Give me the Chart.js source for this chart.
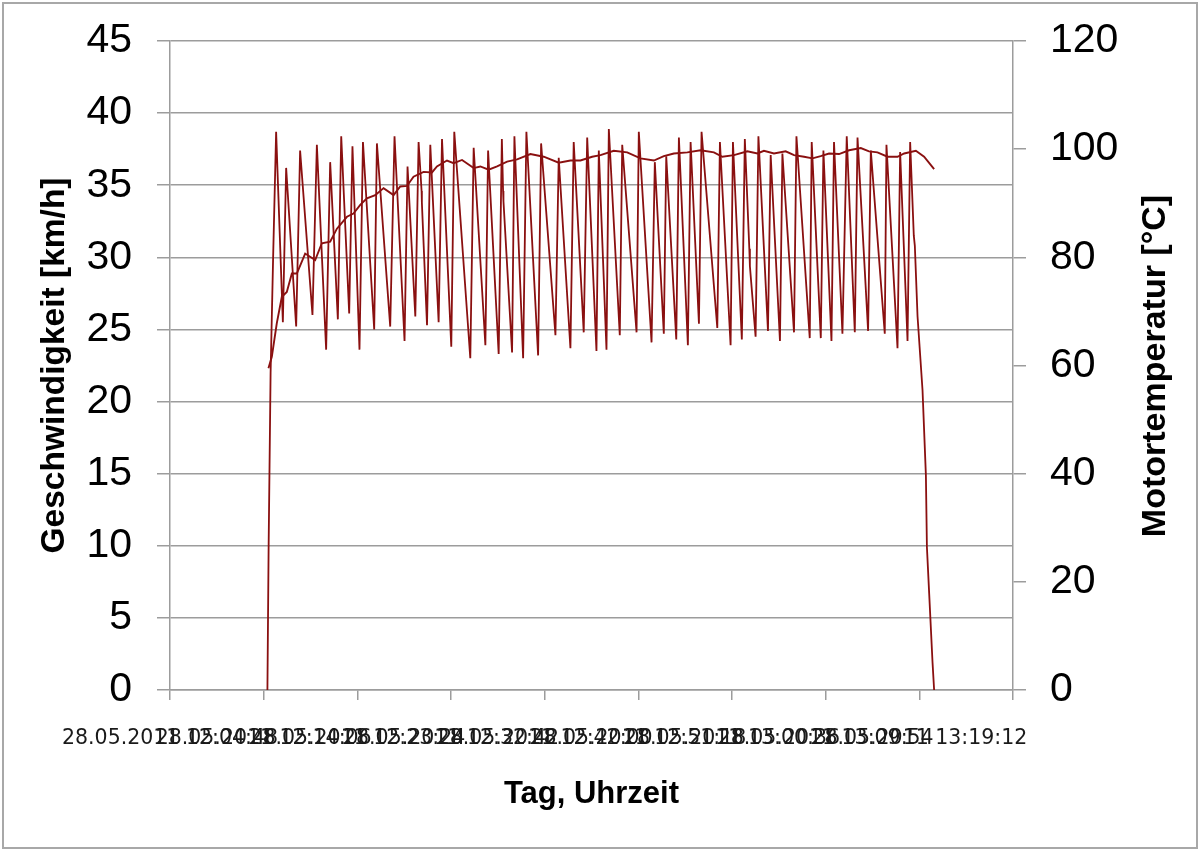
<!DOCTYPE html>
<html lang="de">
<head>
<meta charset="utf-8">
<title>Geschwindigkeit und Motortemperatur</title>
<script src="https://cdn.jsdelivr.net/npm/chart.js@4.4.1/dist/chart.umd.min.js"></script>
<style>
    html, body { margin: 0; padding: 0; background: #ffffff; }
    canvas { display: block; }
</style>
</head>
<body>
<canvas id="chart" width="1200" height="850"></canvas>
<script>
// Tick labels of the time axis (one every 100 measuring points)
const xTickLabels = [
    "28.05.2011 12:04:48",
    "28.05.2011 12:14:06",
    "28.05.2011 12:23:24",
    "28.05.2011 12:32:42",
    "28.05.2011 12:42:00",
    "28.05.2011 12:51:18",
    "28.05.2011 13:00:36",
    "28.05.2011 13:09:54",
    "28.05.2011 13:19:12"
];

// Speed series: measuring point index and speed in km/h
const speedIndex = [
    104.0, 105.3, 107.4, 110.1, 113.3, 120.5, 124.0, 134.7, 138.9, 152.1,
    156.8, 166.7, 171.0, 179.2, 182.8, 191.3, 194.8, 202.3, 206.0, 218.0,
    220.9, 235.1, 239.7, 250.4, 253.6, 261.9, 265.4, 268.6, 268.9, 274.4,
    277.9, 286.8, 290.4, 300.3, 303.5, 320.6, 324.2, 336.7, 339.6, 350.9,
    354.3, 355.6, 356.0, 365.2, 367.7, 377.0, 380.5, 393.0, 396.2, 411.5,
    415.0, 427.5, 431.0, 441.7, 445.4, 455.3, 457.8, 466.0, 468.5, 480.2,
    482.8, 498.1, 500.5, 514.1, 517.6, 527.2, 529.8, 540.5, 543.3, 552.9,
    555.8, 564.7, 567.5, 584.3, 587.1, 598.5, 601.0, 610.5, 613.7, 618.5,
    619.1, 625.2, 628.2, 638.4, 641.3, 651.2, 653.8, 666.2, 668.8, 683.0,
    685.1, 694.8, 697.6, 706.2, 708.9, 717.9, 722.5, 731.1, 734.0, 745.3,
    748.2, 763.1, 764.9, 776.7, 779.5, 787.4, 790.2, 794.1, 795.2, 798.1,
    803.4, 807.0, 808.1, 810.5, 814.1, 815.8
];
const speedKmh = [
    0, 10, 22, 30, 38.7, 25.5, 36.2, 25.2, 37.4, 26.0,
    37.8, 23.6, 36.6, 25.7, 38.4, 26.1, 37.7, 23.6, 38.0, 25.0,
    37.9, 25.2, 38.4, 24.2, 36.3, 25.9, 38.0, 34.6, 33.8, 25.3,
    37.8, 25.5, 38.2, 23.8, 38.7, 23.0, 37.6, 23.9, 37.4, 23.3,
    38.2, 34.6, 33.9, 23.4, 38.4, 23.0, 38.7, 23.2, 37.9, 24.6,
    36.9, 23.7, 38.0, 24.8, 38.3, 23.5, 37.4, 23.6, 38.9, 24.6,
    37.8, 24.8, 38.7, 24.1, 36.6, 24.7, 37.0, 24.3, 38.3, 23.9,
    38.0, 25.4, 38.7, 25.1, 38.0, 23.9, 38.0, 24.3, 38.2, 30.6,
    29.4, 24.5, 38.4, 24.9, 37.1, 24.2, 37.2, 24.8, 38.4, 24.4,
    38.0, 24.4, 37.4, 24.2, 38.0, 24.7, 38.4, 24.8, 38.3, 24.9,
    37.4, 24.7, 37.8, 23.7, 37.3, 24.2, 38.0, 31.5, 30.8, 25.9,
    20.8, 14.9, 9.9, 6.7, 1.9, 0
];

// Engine temperature series: measuring point index and temperature in °C
const tempIndex = [
    105.1, 108.7, 114.0, 119.4, 124.7, 130.1, 135.4, 144.3, 155.0, 162.1,
    171.0, 178.2, 188.9, 195.9, 203.1, 210.2, 219.1, 228.0, 238.7, 245.8,
    253.0, 260.0, 270.7, 279.7, 285.0, 295.7, 302.8, 311.8, 324.2, 331.3,
    340.2, 349.2, 359.9, 370.6, 384.8, 399.0, 415.0, 427.5, 438.2, 450.7,
    459.6, 473.8, 488.1, 502.3, 516.6, 527.2, 537.9, 552.3, 566.5, 580.7,
    589.7, 602.1, 616.4, 627.1, 634.1, 644.8, 657.3, 666.2, 676.9, 685.9,
    694.7, 703.6, 714.3, 725.0, 737.5, 746.3, 755.3, 766.0, 776.7, 783.8,
    796.3, 805.1, 815.8
];
const tempCelsius = [
    59.5, 61.6, 67.8, 72.7, 73.6, 77.0, 77.0, 80.7, 79.5, 82.6,
    82.9, 85.3, 87.5, 88.1, 89.7, 90.9, 91.5, 92.8, 91.5, 93.1,
    93.2, 94.9, 95.8, 95.7, 96.8, 97.9, 97.4, 98.0, 96.5, 96.8,
    96.2, 96.8, 97.7, 98.1, 99.1, 98.6, 97.5, 97.9, 97.9, 98.6,
    98.9, 99.7, 99.4, 98.3, 97.9, 98.7, 99.2, 99.4, 99.8, 99.4,
    98.6, 98.9, 99.6, 99.2, 99.7, 99.2, 99.6, 98.9, 98.6, 98.3,
    98.7, 99.2, 99.1, 99.8, 100.2, 99.6, 99.4, 98.6, 98.6, 99.2,
    99.7, 98.6, 96.3
];

const LINE_COLOR = "#8a1010";
const AXIS_COLOR = "#9c9c9c";
const RIGHT_TITLE = "Motortemperatur [°C]";

// Pair index and value arrays into points for the linear x scale
function toPoints(xs, ys) {
    return xs.map((x, i) => ({ x: x, y: ys[i] }));
}

// Fix the axis box size and drop the label overflow padding
function fixWidth(width) {
    return (scale) => {
        scale.width = width;
        scale.paddingTop = 0;
        scale.paddingBottom = 0;
    };
}

// White background, grey frame and the right axis title (reads bottom to top)
const framePlugin = {
    id: "frame",
    beforeDraw(chart) {
        const ctx = chart.ctx;
        ctx.save();
        ctx.fillStyle = "#ffffff";
        ctx.fillRect(0, 0, chart.width, chart.height);
        ctx.restore();
    },
    afterDraw(chart) {
        const ctx = chart.ctx;
        ctx.save();
        ctx.strokeStyle = "#a8a8a8";
        ctx.lineWidth = 2;
        ctx.strokeRect(3, 3, chart.width - 6, chart.height - 5);

        ctx.translate(1156, 366);
        ctx.rotate(-Math.PI / 2);
        ctx.fillStyle = "#000000";
        ctx.font = "bold 34px 'Liberation Sans', Arial";
        ctx.textAlign = "center";
        ctx.textBaseline = "middle";
        ctx.fillText(RIGHT_TITLE, 0, 0);
        ctx.restore();
    }
};

function createChart() {
    const ctx = document.getElementById("chart").getContext("2d");

    new Chart(ctx, {
        type: "line",
        data: {
            datasets: [
                {
                    label: "Geschwindigkeit",
                    data: toPoints(speedIndex, speedKmh),
                    yAxisID: "y",
                    borderColor: LINE_COLOR,
                    borderWidth: 1.8,
                    pointRadius: 0,
                    tension: 0
                },
                {
                    label: "Motortemperatur",
                    data: toPoints(tempIndex, tempCelsius),
                    yAxisID: "y2",
                    borderColor: LINE_COLOR,
                    borderWidth: 1.9,
                    pointRadius: 0,
                    tension: 0
                }
            ]
        },
        options: {
            responsive: false,
            animation: false,
            devicePixelRatio: 1,
            layout: { padding: { top: 41, left: 0, right: 0, bottom: 0 } },
            plugins: {
                legend: { display: false },
                tooltip: { enabled: false }
            },
            scales: {
                x: {
                    type: "linear",
                    min: 0,
                    max: 900,
                    afterFit: (scale) => { scale.height = 160; },
                    border: { color: AXIS_COLOR, width: 1.5 },
                    grid: { drawOnChartArea: false, color: AXIS_COLOR, lineWidth: 1.5, tickLength: 10 },
                    ticks: {
                        stepSize: 100,
                        autoSkip: false,
                        maxRotation: 0,
                        padding: 26,
                        color: "#1a1a1a",
                        font: { family: "'DejaVu Sans'", size: 20.5 },
                        callback: (value) => xTickLabels[Math.round(value / 100)] ?? ""
                    },
                    title: {
                        display: true,
                        text: "Tag, Uhrzeit",
                        color: "#000000",
                        font: { family: "'Liberation Sans', Arial", size: 31, weight: "bold" },
                        padding: { top: 0, bottom: 37 }
                    }
                },
                y: {
                    position: "left",
                    min: 0,
                    max: 45,
                    afterFit: fixWidth(170),
                    border: { color: AXIS_COLOR, width: 1.5 },
                    grid: { color: AXIS_COLOR, lineWidth: 1.5, tickLength: 13 },
                    ticks: {
                        stepSize: 5,
                        padding: 25,
                        color: "#000000",
                        font: { family: "'Liberation Sans', Arial", size: 41 }
                    },
                    title: {
                        display: true,
                        text: "Geschwindigkeit [km/h]",
                        color: "#000000",
                        font: { family: "'Liberation Sans', Arial", size: 33.5, weight: "bold" },
                        padding: { top: 35, bottom: 0 }
                    }
                },
                y2: {
                    position: "right",
                    min: 0,
                    max: 120,
                    afterFit: fixWidth(187),
                    border: { color: AXIS_COLOR, width: 1.5 },
                    grid: { drawOnChartArea: false, color: AXIS_COLOR, lineWidth: 1.5, tickLength: 13 },
                    ticks: {
                        stepSize: 20,
                        padding: 24,
                        color: "#000000",
                        font: { family: "'Liberation Sans', Arial", size: 41 }
                    }
                }
            }
        },
        plugins: [framePlugin]
    });
}

document.addEventListener("DOMContentLoaded", createChart);
</script>
</body>
</html>
